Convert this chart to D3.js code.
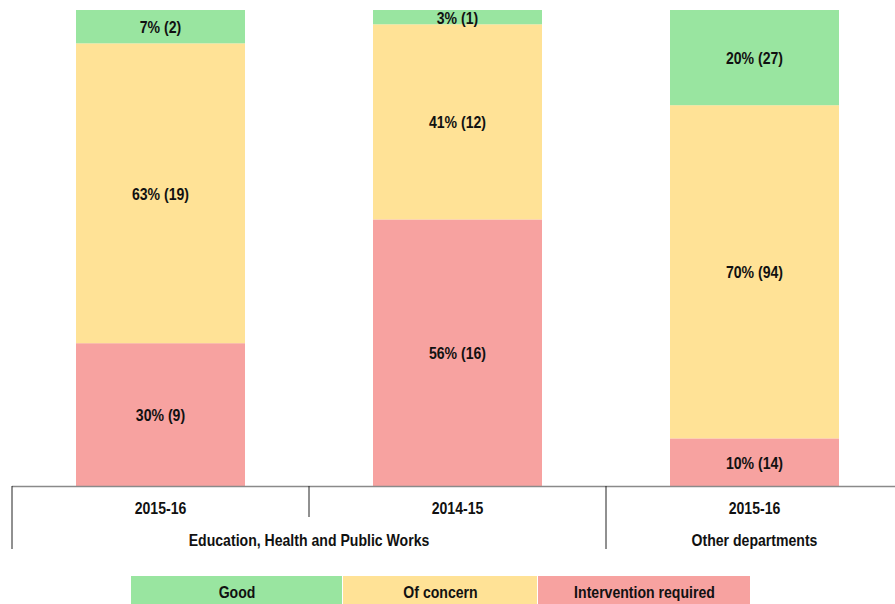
<!DOCTYPE html>
<meta charset="utf-8" />
<html>
<head>
<script src="https://d3js.org/d3.v7.min.js"></script>
<style>
  body { margin: 0; background: #fff; }
  text { font-family: "Liberation Sans", Arial, sans-serif; font-weight: bold; fill: #111; font-size: 16px; }
</style>
</head>
<body>
<script type="text/javascript">
// data
var periods = ['2015-16', '2014-15', '2015-16'];
var groups = ['Education, Health and Public Works', 'Other departments'];
var groupOf = [0, 0, 1];
var ratings = ['Intervention required', 'Of concern', 'Good'];
var pctIntervention = [30, 56, 10];
var cntIntervention = [9, 16, 14];
var pctConcern = [63, 41, 70];
var cntConcern = [19, 12, 94];
var pctGood = [7, 3, 20];
var cntGood = [2, 1, 27];
var legendOrder = ['Good', 'Of concern', 'Intervention required'];

var colors = {'Good': '#99e5a0', 'Of concern': '#ffe296', 'Intervention required': '#f7a2a0'};

var width = 895, height = 604;
var narrow = 0.88; // squeeze text to look like a narrow face
var svg = d3.select('body').append('svg')
    .attr('width', width)
    .attr('height', height);

// centred, horizontally squeezed label
function label(sel, fx, fy) {
  return sel.attr('transform', function(d, i) {
      return 'translate(' + fx(d, i) + ',' + fy(d, i) + ') scale(' + narrow + ',1)';
    })
    .attr('dy', '0.37em')
    .attr('text-anchor', 'middle');
}

var keys = periods.map(function(p, i) { return 'c' + i; });
var x = d3.scaleBand()
    .domain(keys)
    .range([12, 903])
    .paddingInner(0.431)
    .paddingOuter(0.2155);
var y = d3.scaleLinear().domain([0, 100]).range([486, 10]);

var rows = periods.map(function(p, i) {
  return {key: keys[i], 'Intervention required': pctIntervention[i], 'Of concern': pctConcern[i], 'Good': pctGood[i],
          counts: {'Intervention required': cntIntervention[i], 'Of concern': cntConcern[i], 'Good': cntGood[i]}};
});
var series = d3.stack().keys(ratings)(rows);

var layer = svg.append('g').selectAll('g')
    .data(series)
    .enter().append('g')
    .attr('fill', function(s) { return colors[s.key]; });

layer.selectAll('rect')
    .data(function(s) { return s.map(function(d) { d.rating = s.key; return d; }); })
    .enter().append('rect')
    .attr('x', function(d) { return x(d.data.key); })
    .attr('width', x.bandwidth())
    .attr('y', function(d) { return y(d[1]); })
    .attr('height', function(d) { return y(d[0]) - y(d[1]); });

label(layer.selectAll('text')
    .data(function(s) { return s; })
    .enter().append('text'),
    function(d) { return x(d.data.key) + x.bandwidth() / 2; },
    function(d) { return (y(d[0]) + y(d[1])) / 2 + 0.5; })
    .text(function(d) { return (d[1] - d[0]) + '% (' + d.data.counts[d.rating] + ')'; });

// axis line and category separators
var step = x.step();
var left = x(keys[0]) - x.paddingOuter() * step;
svg.append('line')
    .attr('x1', left).attr('x2', width)
    .attr('y1', 486.5).attr('y2', 486.5)
    .attr('stroke', '#8a8a8a').attr('stroke-width', 1.5);

var seps = [0, 1, 2].map(function(i) { return left + i * step; });
svg.selectAll('.sep')
    .data(seps)
    .enter().append('line')
    .attr('class', 'sep')
    .attr('x1', function(d) { return d; }).attr('x2', function(d) { return d; })
    .attr('y1', 486)
    .attr('y2', function(d, i) { return groupOf[i] !== groupOf[i - 1] ? 549 : 517; })
    .attr('stroke', '#222').attr('stroke-width', 1);

label(svg.selectAll('.period')
    .data(periods)
    .enter().append('text')
    .attr('class', 'period'),
    function(d, i) { return x(keys[i]) + x.bandwidth() / 2; },
    function() { return 508.5; })
    .text(function(d) { return d; });

label(svg.selectAll('.group')
    .data(groups)
    .enter().append('text')
    .attr('class', 'group'),
    function(d, g) {
      var idx = d3.range(periods.length).filter(function(i) { return groupOf[i] === g; });
      var a = left + idx[0] * step, b = left + (idx[idx.length - 1] + 1) * step;
      return (a + b) / 2;
    },
    function() { return 540; })
    .text(function(d) { return d; });

// legend
var legendX = [131, 343, 538, 751];
var legend = svg.append('g').selectAll('g')
    .data(legendOrder)
    .enter().append('g');
legend.append('rect')
    .attr('x', function(d, i) { return legendX[i]; })
    .attr('y', 576)
    .attr('width', function(d, i) { return legendX[i + 1] - legendX[i] - 1; })
    .attr('height', 30)
    .attr('fill', function(d) { return colors[d]; });
label(legend.append('text'),
    function(d, i) { return (legendX[i] + legendX[i + 1]) / 2; },
    function() { return 592.5; })
    .text(function(d) { return d; });
</script>
</body>
</html>
